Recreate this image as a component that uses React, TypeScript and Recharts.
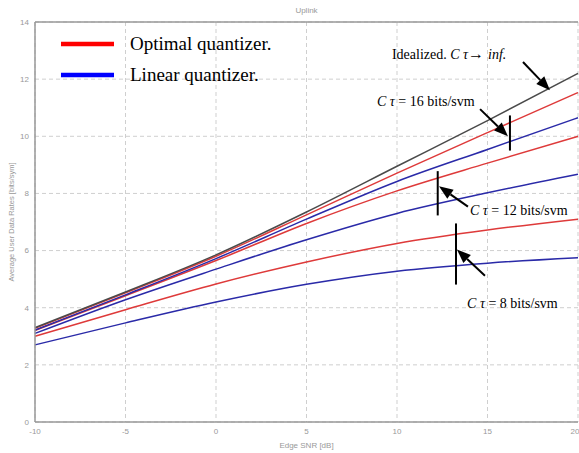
import React from 'react';
import { LineChart, Line, XAxis, YAxis, CartesianGrid, ReferenceLine, ReferenceDot, Legend } from 'recharts';

const snr = [-10, -5, 0, 5, 10, 15, 20];
const ideal = [3.3, 4.55, 5.85, 7.35, 8.95, 10.55, 12.2];
const opt16 = [3.28, 4.52, 5.8, 7.25, 8.71, 10.13, 11.53];
const lin16 = [3.22, 4.45, 5.72, 7.1, 8.42, 9.54, 10.65];
const opt12 = [3.2, 4.42, 5.65, 6.95, 8.09, 9.06, 10.0];
const lin12 = [3.1, 4.28, 5.35, 6.38, 7.3, 8.02, 8.67];
const opt8 = [3.0, 3.93, 4.83, 5.6, 6.25, 6.72, 7.1];
const lin8 = [2.7, 3.47, 4.2, 4.82, 5.28, 5.56, 5.75];

const xTicks = [-10, -5, 0, 5, 10, 15, 20];
const yTicks = [0, 2, 4, 6, 8, 10, 12, 14];

const legendItems = [
  { label: 'Optimal quantizer.', color: '#ff0000' },
  { label: 'Linear quantizer.', color: '#0000ff' },
];

// annotation arrows: [tailX, tailY, headX, headY] in data units
const arrows = [
  [16.96, 12.6, 18.45, 11.61],
  [14.59, 10.95, 16.13, 10.0],
  [13.92, 7.54, 12.32, 8.25],
  [14.86, 5.12, 13.31, 6.04],
];
// vertical bars: [x, y1, y2]
const bars = [
  [16.24, 10.73, 9.5],
  [12.25, 8.78, 7.23],
  [13.26, 6.95, 4.81],
];
// text labels
const labels = [
  { x: 9.72, y: 12.7, kind: 'ideal', bits: '' },
  { x: 8.895, y: 11.05, kind: 'bits', bits: '16' },
  { x: 14.03, y: 7.26, kind: 'bits', bits: '12' },
  { x: 13.87, y: 4.0, kind: 'bits', bits: '8' },
];

const data = snr.map((s, i) => ({
  snr: s,
  ideal: ideal[i],
  opt16: opt16[i],
  lin16: lin16[i],
  opt12: opt12[i],
  lin12: lin12[i],
  opt8: opt8[i],
  lin8: lin8[i],
}));

const RED = '#de3a3a';
const BLUE = '#2a2aa8';
const BLACK = '#4a4a4a';
const serif = '"Liberation Serif", "Times New Roman", serif';

const ArrowShape = (props: any) => {
  const { x1, y1, x2, y2 } = props;
  if ([x1, y1, x2, y2].some((v) => typeof v !== 'number' || isNaN(v))) return null;
  const dx = x2 - x1;
  const dy = y2 - y1;
  const len = Math.sqrt(dx * dx + dy * dy);
  const ux = dx / len;
  const uy = dy / len;
  const hl = 14;
  const hw = 5.5;
  const bx = x2 - ux * hl;
  const by = y2 - uy * hl;
  const pts = `${x2},${y2} ${bx - uy * hw},${by + ux * hw} ${bx + uy * hw},${by - ux * hw}`;
  return (
    <g>
      <line x1={x1} y1={y1} x2={bx} y2={by} stroke="#000" strokeWidth={2} />
      <polygon points={pts} fill="#000" />
    </g>
  );
};

const BarShape = (props: any) => {
  const { x1, y1, x2, y2 } = props;
  return <line x1={x1} y1={y1} x2={x2} y2={y2} stroke="#000" strokeWidth={2} />;
};

const makeLabelShape = (kind: string, bits: string) => (props: any) => {
  const { cx, cy } = props;
  if (kind === 'ideal') {
    return (
      <text x={cx} y={cy} fontFamily={serif} fontSize={14} fill="#000">
        <tspan>Idealized. </tspan>
        <tspan fontStyle="italic">C τ</tspan>
        <tspan fontSize={16}>→ </tspan>
        <tspan fontStyle="italic">inf.</tspan>
      </text>
    );
  }
  return (
    <text x={cx} y={cy} fontFamily={serif} fontSize={14} fill="#000">
      <tspan fontStyle="italic">C τ</tspan>
      <tspan>{` = ${bits} bits/svm`}</tspan>
    </text>
  );
};

const TitleShape = (props: any) => {
  const { cx, cy } = props;
  return (
    <text x={cx} y={cy - 9} textAnchor="middle" fontFamily="Liberation Sans, Arial, sans-serif" fontSize={8} fill="#999">
      Uplink
    </text>
  );
};

const LegendContent = () => (
  <svg width={260} height={60}>
    {legendItems.map((it, i) => (
      <g key={it.label}>
        <line x1={6} y1={14 + i * 31} x2={59} y2={14 + i * 31} stroke={it.color} strokeWidth={4.5} />
        <text x={75} y={20 + i * 31} fontFamily={serif} fontSize={19} fill="#000">
          {it.label}
        </text>
      </g>
    ))}
  </svg>
);

const YLabel = (props: any) => {
  const vb = props.viewBox || { x: 0, y: 22, width: 35, height: 400 };
  const cx = 12;
  const cy = vb.y + vb.height / 2;
  return (
    <text x={cx} y={cy} transform={`rotate(-90, ${cx}, ${cy})`} textAnchor="middle" dominantBaseline="middle"
      fontFamily="Liberation Sans, Arial, sans-serif" fontSize={7.5} fill="#999">
      Average User Data Rates [bits/sym]
    </text>
  );
};

export default function App() {
  const tickStyle = { fontSize: 8, fill: '#999', fontFamily: 'Liberation Sans, Arial, sans-serif' };
  return (
    <div style={{ position: 'absolute', left: 0, top: 0, width: 579, height: 453, background: '#fff' }}>
      <LineChart width={579} height={453} data={data} margin={{ top: 22, right: 1, bottom: 0, left: 0 }}>
        <CartesianGrid stroke="#cfcfcf" strokeDasharray="4 3" />
        <XAxis
          dataKey="snr"
          type="number"
          domain={[-10, 20]}
          ticks={xTicks}
          height={31}
          tick={tickStyle}
          tickLine={false}
          tickSize={4}
          axisLine={{ stroke: '#999', strokeWidth: 1.5 }}
          label={{ value: 'Edge SNR [dB]', position: 'insideBottom', offset: 5, fontSize: 8, fill: '#999', fontFamily: 'Liberation Sans, Arial, sans-serif' }}
        />
        <YAxis
          type="number"
          domain={[0, 14]}
          ticks={yTicks}
          width={35}
          tick={tickStyle}
          tickLine={false}
          tickSize={4}
          axisLine={{ stroke: '#999', strokeWidth: 1.5 }}
          label={<YLabel />}
        />
        <ReferenceLine y={14} stroke="#999" strokeWidth={1.5} />
        <Line type="monotone" dataKey="lin8" stroke={BLUE} strokeWidth={1.5} dot={false} isAnimationActive={false} />
        <Line type="monotone" dataKey="opt8" stroke={RED} strokeWidth={1.5} dot={false} isAnimationActive={false} />
        <Line type="monotone" dataKey="lin12" stroke={BLUE} strokeWidth={1.5} dot={false} isAnimationActive={false} />
        <Line type="monotone" dataKey="opt12" stroke={RED} strokeWidth={1.5} dot={false} isAnimationActive={false} />
        <Line type="monotone" dataKey="lin16" stroke={BLUE} strokeWidth={1.5} dot={false} isAnimationActive={false} />
        <Line type="monotone" dataKey="opt16" stroke={RED} strokeWidth={1.5} dot={false} isAnimationActive={false} />
        <Line type="monotone" dataKey="ideal" stroke={BLACK} strokeWidth={1.5} dot={false} isAnimationActive={false} />
        {bars.map((b, i) => (
          <ReferenceLine key={`bar${i}`} segment={[{ x: b[0], y: b[1] }, { x: b[0], y: b[2] }]} shape={BarShape} ifOverflow="visible" />
        ))}
        {arrows.map((a, i) => (
          <ReferenceLine key={`arr${i}`} segment={[{ x: a[0], y: a[1] }, { x: a[2], y: a[3] }]} shape={ArrowShape} ifOverflow="visible" />
        ))}
        {labels.map((l, i) => (
          <ReferenceDot key={`lab${i}`} x={l.x} y={l.y} r={0} shape={makeLabelShape(l.kind, l.bits)} ifOverflow="visible" />
        ))}
        <ReferenceDot x={5} y={14} r={0} shape={TitleShape} ifOverflow="visible" />
        <Legend
          layout="vertical"
          align="center"
          verticalAlign="middle"
          wrapperStyle={{ position: 'absolute', top: 30, left: 55, width: 260, height: 60 }}
          content={<LegendContent />}
        />
      </LineChart>
    </div>
  );
}
